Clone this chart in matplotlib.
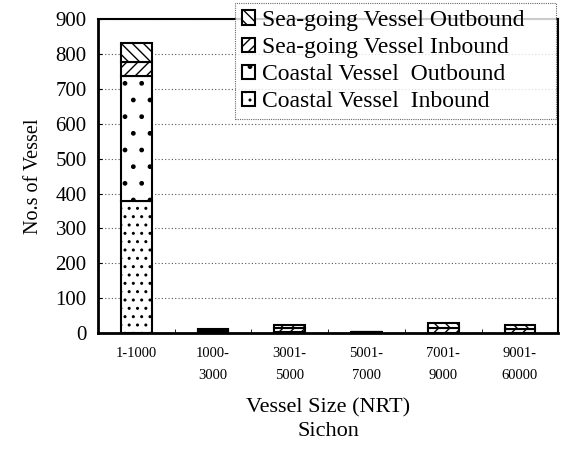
import matplotlib.pyplot as plt
import numpy as np

plt.rcParams['font.family'] = ['Liberation Serif', 'DejaVu Serif']
plt.rcParams['hatch.linewidth'] = 1.0

# vessel size classes and counts
categories = ['1-1000', '1000-\n3000', '3001-\n5000', '5001-\n7000', '7001-\n9000', '9001-\n60000']
coastal_in = [380, 5, 2, 1, 0, 0]
coastal_out = [356, 4, 2, 1, 0, 0]
sea_in = [40, 1, 9, 0, 14, 11]
sea_out = [55, 1, 10, 0, 15, 11]

x = np.arange(len(categories))
w = 0.4

fig = plt.figure(figsize=(5.72, 4.69), dpi=100)
ax = fig.add_axes([0.171, 0.29, 0.805, 0.669])

bottom = np.zeros(len(categories))
series = [
    (coastal_in, '..', 'Coastal Vessel  Inbound'),
    (coastal_out, '.', 'Coastal Vessel  Outbound'),
    (sea_in, '///', 'Sea-going Vessel Inbound'),
    (sea_out, '\\\\\\', 'Sea-going Vessel Outbound'),
]
handles = []
for vals, hatch, lab in series:
    b = ax.bar(x, vals, w, bottom=bottom, color='white', edgecolor='black',
               hatch=hatch, linewidth=1.5, label=lab)
    handles.append(b)
    bottom += np.array(vals)

ax.set_ylim(0, 900)
ax.set_xlim(-0.5, len(categories) - 0.5)
ax.set_yticks(np.arange(0, 901, 100))
ax.yaxis.grid(True, linestyle=(0, (1, 2)), color='#555555', linewidth=0.8)
ax.set_axisbelow(True)
ax.set_xticks(x)
ax.set_xticklabels(categories, fontsize=10.5, linespacing=1.9)
ax.tick_params(axis='x', length=0, pad=10)
ax.set_xticks(np.arange(-0.5, len(categories), 1), minor=True)
ax.tick_params(axis='x', which='minor', direction='in', length=3)
ax.tick_params(axis='y', direction='in', length=3, labelsize=15, pad=8)

for s in ['left', 'bottom']:
    ax.spines[s].set_linewidth(2)
for s in ['top', 'right']:
    ax.spines[s].set_linewidth(1.5)

ax.set_ylabel('No.s of Vessel', fontsize=14.5, labelpad=9)
ax.set_xlabel('Vessel Size (NRT)\nSichon', fontsize=16, labelpad=12, linespacing=1.3)

leg = fig.legend(handles[::-1], [h.get_label() for h in handles[::-1]],
                 loc='upper left', mode='expand',
                 bbox_to_anchor=(0.411, 0.748, 0.561, 0.246),
                 fontsize=17, frameon=True, fancybox=False,
                 handlelength=0.55, handleheight=0.55, handletextpad=0.3,
                 labelspacing=0.26, borderpad=0.3, borderaxespad=0)
leg.get_frame().set_edgecolor('#444444')
leg.get_frame().set_linestyle((0, (1, 1)))
leg.get_frame().set_linewidth(0.8)

plt.savefig('out.png', dpi=100)
